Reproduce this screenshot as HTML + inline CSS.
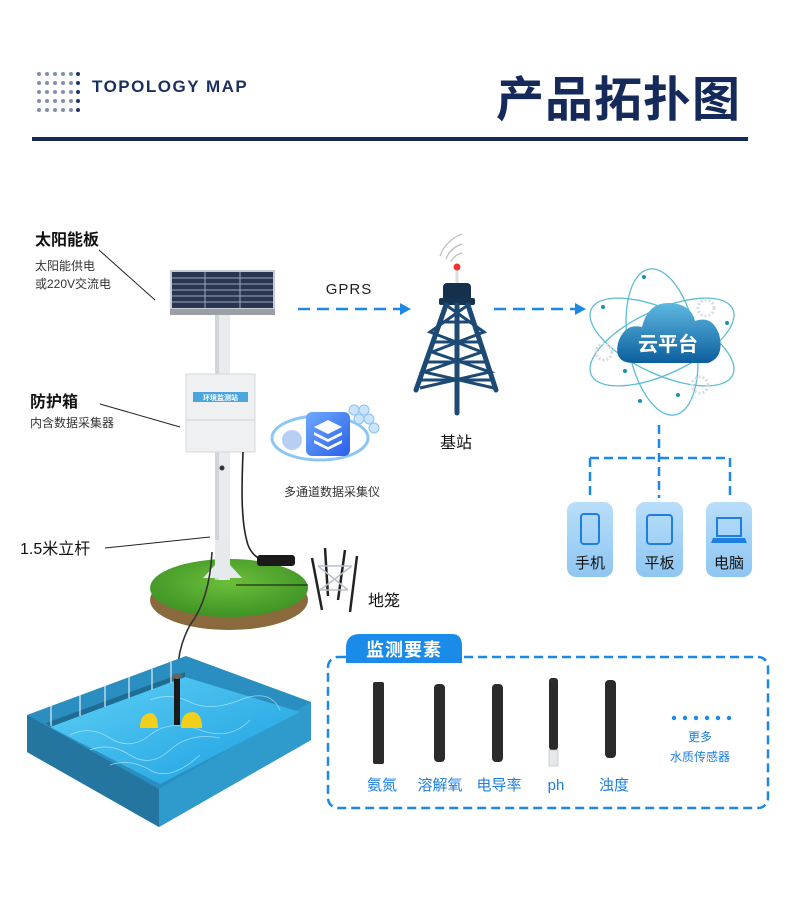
<!DOCTYPE html>
<html><head><meta charset="utf-8"><style>
html,body{margin:0;padding:0;background:#fff;}
svg{display:block;}
text{font-family:"Liberation Sans","Noto Sans CJK SC",sans-serif;}
</style></head><body>
<svg width="792" height="897" viewBox="0 0 792 897" xmlns="http://www.w3.org/2000/svg">
<defs>
<linearGradient id="cloud" x1="0" y1="0" x2="0" y2="1"><stop offset="0" stop-color="#5fb8e0"/><stop offset="1" stop-color="#0b5f9e"/></linearGradient>
<linearGradient id="dev" x1="0" y1="0" x2="0" y2="1"><stop offset="0" stop-color="#b9defa"/><stop offset="1" stop-color="#8ec6f2"/></linearGradient>
<linearGradient id="water" x1="0" y1="0" x2="1" y2="1"><stop offset="0" stop-color="#5fd0f5"/><stop offset="1" stop-color="#1a9ee0"/></linearGradient>
<radialGradient id="grass" cx="0.5" cy="0.4" r="0.6"><stop offset="0" stop-color="#6cbf3a"/><stop offset="1" stop-color="#3e9325"/></radialGradient>
<linearGradient id="ico" x1="0" y1="0" x2="1" y2="1"><stop offset="0" stop-color="#6fa9ff"/><stop offset="1" stop-color="#2a5fe8"/></linearGradient>
</defs>

<g fill="#1f3566">
<g opacity="0.55">
<circle cx="39" cy="74" r="2"/><circle cx="47" cy="74" r="2"/><circle cx="55" cy="74" r="2"/><circle cx="63" cy="74" r="2"/><circle cx="71" cy="74" r="2"/>
<circle cx="39" cy="83" r="2"/><circle cx="47" cy="83" r="2"/><circle cx="55" cy="83" r="2"/><circle cx="63" cy="83" r="2"/><circle cx="71" cy="83" r="2"/>
<circle cx="39" cy="92" r="2"/><circle cx="47" cy="92" r="2"/><circle cx="55" cy="92" r="2"/><circle cx="63" cy="92" r="2"/><circle cx="71" cy="92" r="2"/>
<circle cx="39" cy="101" r="2"/><circle cx="47" cy="101" r="2"/><circle cx="55" cy="101" r="2"/><circle cx="63" cy="101" r="2"/><circle cx="71" cy="101" r="2"/>
<circle cx="39" cy="110" r="2"/><circle cx="47" cy="110" r="2"/><circle cx="55" cy="110" r="2"/><circle cx="63" cy="110" r="2"/><circle cx="71" cy="110" r="2"/>
</g>
<circle cx="78" cy="74" r="2"/><circle cx="78" cy="83" r="2"/><circle cx="78" cy="92" r="2"/><circle cx="78" cy="101" r="2"/><circle cx="78" cy="110" r="2"/>
</g>
<text x="92" y="92" font-size="17" font-weight="bold" fill="#1b2f5e" letter-spacing="1.5">TOPOLOGY MAP</text>
<text x="496" y="116" font-size="48" font-weight="bold" fill="#152a5b" letter-spacing="1">产品拓扑图</text>
<rect x="32" y="137" width="716" height="4" fill="#152a5b"/>

<text x="35" y="245" font-size="16" font-weight="bold" fill="#111">太阳能板</text>
<text x="35" y="270" font-size="12" fill="#333">太阳能供电</text>
<text x="35" y="288" font-size="12" fill="#333">或220V交流电</text>
<line x1="99" y1="250" x2="155" y2="300" stroke="#222" stroke-width="1"/>
<text x="30" y="407" font-size="16" font-weight="bold" fill="#111">防护箱</text>
<text x="30" y="427" font-size="12" fill="#333">内含数据采集器</text>
<line x1="100" y1="404" x2="180" y2="427" stroke="#222" stroke-width="1"/>
<text x="20" y="554" font-size="16" fill="#111">1.5米立杆</text>
<line x1="105" y1="548" x2="210" y2="537" stroke="#222" stroke-width="1"/>

<ellipse cx="229" cy="600" rx="79" ry="30" fill="#8a6a3c"/>
<ellipse cx="229" cy="588" rx="79" ry="29" fill="url(#grass)"/>
<line x1="236" y1="585" x2="308" y2="585" stroke="#111" stroke-width="1"/>
<rect x="215" y="312" width="15" height="268" fill="#e8ecef"/>
<rect x="215" y="312" width="4" height="268" fill="#cfd5da"/>
<path d="M203 578 L215 565 L215 540 L230 540 L230 565 L242 578 Z" fill="#e6eaed"/>
<rect x="170" y="270" width="105" height="40" fill="#c6ccd6"/>
<rect x="172" y="272" width="101" height="36" fill="#2a3650"/>
<g stroke="#9aa6bd" stroke-width="1">
<line x1="172" y1="278" x2="273" y2="278"/><line x1="172" y1="284" x2="273" y2="284"/><line x1="172" y1="290" x2="273" y2="290"/><line x1="172" y1="296" x2="273" y2="296"/><line x1="172" y1="302" x2="273" y2="302"/>
<line x1="205" y1="272" x2="205" y2="308"/><line x1="240" y1="272" x2="240" y2="308"/>
</g>
<rect x="170" y="309" width="105" height="6" fill="#9aa0a6"/>
<rect x="186" y="374" width="69" height="78" fill="#eef0f1" stroke="#d4d8db"/>
<line x1="186" y1="420" x2="255" y2="420" stroke="#d0d4d8"/>
<rect x="193" y="392" width="55" height="10" fill="#4aa6dc"/>
<text x="220.5" y="400" font-size="7" fill="#fff" text-anchor="middle" font-weight="bold">环境监测站</text>
<circle cx="222" cy="468" r="2.5" fill="#333"/>
<path d="M243 452 C242 480 240 520 248 545 C252 555 258 558 262 560" fill="none" stroke="#222" stroke-width="1.6"/>
<rect x="257" y="555" width="38" height="11" rx="3" fill="#1a1a1a"/>
<path d="M212 552 C210 590 200 612 190 625 C182 640 178 655 178 670" fill="none" stroke="#333" stroke-width="1.6"/>
<g stroke="#222" stroke-width="2.5" fill="none">
<line x1="312" y1="558" x2="322" y2="610"/><line x1="325" y1="548" x2="328" y2="596"/><line x1="345" y1="550" x2="338" y2="600"/><line x1="357" y1="556" x2="350" y2="612"/>
</g>
<g stroke="#b8c0c8" stroke-width="1.5" fill="none">
<path d="M318 566 L352 566 M320 590 L348 590 M318 566 L348 590 M352 566 L320 590"/>
</g>
<text x="368" y="606" font-size="16" fill="#111">地笼</text>

<ellipse cx="320" cy="438" rx="48" ry="22" fill="none" stroke="#8cc6f5" stroke-width="3"/>
<circle cx="292" cy="440" r="10" fill="#b7cff3"/>
<g fill="#c9e4fb" stroke="#8dc2f0"><circle cx="354" cy="410" r="5"/><circle cx="364" cy="410" r="5"/><circle cx="359" cy="419" r="5"/><circle cx="369" cy="419" r="5"/><circle cx="374" cy="428" r="5"/></g>
<rect x="306" y="412" width="44" height="44" rx="6" fill="url(#ico)"/>
<g fill="#fff"><path d="M328 420 L342 427 L328 434 L314 427Z"/><path d="M314 432 L328 439 L342 432 L342 435 L328 442 L314 435Z"/><path d="M314 440 L328 447 L342 440 L342 443 L328 450 L314 443Z"/></g>
<text x="332" y="496" font-size="12" fill="#333" text-anchor="middle">多通道数据采集仪</text>

<text x="349" y="294" font-size="15" fill="#222" text-anchor="middle" letter-spacing="1">GPRS</text>
<line x1="298" y1="309" x2="400" y2="309" stroke="#1e88e5" stroke-width="2.5" stroke-dasharray="12,7"/>
<path d="M400 303 L411 309 L400 315Z" fill="#1e88e5"/>
<line x1="494" y1="309" x2="575" y2="309" stroke="#1e88e5" stroke-width="2.5" stroke-dasharray="12,7"/>
<path d="M575 303 L586 309 L575 315Z" fill="#1e88e5"/>

<g fill="none" stroke="#bbb" stroke-width="1.2"><path d="M440 256 Q446 240 462 234"/><path d="M446 259 Q450 248 462 244"/><path d="M451 262 Q454 255 462 253"/></g>
<line x1="457" y1="268" x2="457" y2="290" stroke="#ddd" stroke-width="3"/>
<circle cx="457" cy="267" r="3.5" fill="#e33"/>
<rect x="443" y="283" width="28" height="18" rx="4" fill="#15304d"/>
<rect x="439" y="298" width="36" height="7" rx="2" fill="#163352"/>
<g stroke="#1d4a74" stroke-width="5" fill="none" stroke-linecap="round">
<path d="M446 305 L416 390"/><path d="M468 305 L496 390"/><path d="M457 305 L457 413"/>
</g>
<g stroke="#1d4a74" stroke-width="3" fill="none">
<path d="M446 305 L484 332 L432 352 L490 372 L420 388"/><path d="M468 305 L430 332 L482 352 L424 372 L494 388"/>
<path d="M440 322 L474 322 M434 342 L480 342 M427 362 L487 362 M421 380 L493 380"/>
</g>
<text x="456" y="448" font-size="16" fill="#111" text-anchor="middle">基站</text>

<g fill="none" stroke="#5cbdd2" stroke-width="1.3">
<ellipse cx="662" cy="342" rx="78" ry="32" transform="rotate(25 662 342)"/>
<ellipse cx="662" cy="342" rx="78" ry="32" transform="rotate(-25 662 342)"/>
<ellipse cx="662" cy="342" rx="74" ry="34" transform="rotate(80 662 342)"/>
</g>
<g fill="none" stroke="#d7dde3" stroke-width="3" stroke-dasharray="2,2"><circle cx="706" cy="308" r="8"/><circle cx="604" cy="352" r="8"/><circle cx="700" cy="385" r="8"/></g>
<g fill="#1c8fb0"><circle cx="644" cy="277" r="2"/><circle cx="603" cy="307" r="2"/><circle cx="727" cy="323" r="2"/><circle cx="625" cy="371" r="2"/><circle cx="678" cy="395" r="2"/><circle cx="640" cy="401" r="2"/></g>
<path d="M632 363 Q612 362 619 340 Q626 323 642 327 Q648 302 670 303 Q691 304 695 321 Q712 315 719 334 Q725 357 708 363 Z" fill="url(#cloud)"/>
<text x="668" y="351" font-size="20" font-weight="bold" fill="#fff" text-anchor="middle">云平台</text>

<g stroke="#1e88e5" stroke-width="2.5" stroke-dasharray="9,5" fill="none">
<line x1="659" y1="425" x2="659" y2="498"/>
<line x1="590" y1="458" x2="730" y2="458"/>
<line x1="590" y1="458" x2="590" y2="498"/>
<line x1="730" y1="458" x2="730" y2="498"/>
</g>
<g>
<rect x="567" y="502" width="46" height="75" rx="9" fill="url(#dev)"/>
<rect x="581" y="514" width="18" height="30" rx="3" fill="none" stroke="#1e7fe0" stroke-width="2"/>
<text x="590" y="568" font-size="15" fill="#111" text-anchor="middle">手机</text>
<rect x="636" y="502" width="47" height="75" rx="9" fill="url(#dev)"/>
<rect x="647" y="515" width="25" height="29" rx="3" fill="none" stroke="#1e7fe0" stroke-width="2"/>
<text x="659.5" y="568" font-size="15" fill="#111" text-anchor="middle">平板</text>
<rect x="706" y="502" width="46" height="75" rx="9" fill="url(#dev)"/>
<rect x="717" y="518" width="24" height="18" fill="none" stroke="#1e7fe0" stroke-width="2"/>
<path d="M713 538 L745 538 L747 543 L711 543Z" fill="#1e7fe0"/>
<text x="729" y="568" font-size="15" fill="#111" text-anchor="middle">电脑</text>
</g>

<path d="M27 715 L186 656 L311 702 L311 740 L159 827 L27 752 Z" fill="#2a8fc0"/>
<path d="M27 715 L159 789 L159 827 L27 752 Z" fill="#2475a0"/>
<path d="M159 789 L311 702 L311 740 L159 827 Z" fill="#2f9bcc"/>
<path d="M50 727 L185 677 L300 712 L160 784 Z" fill="url(#water)"/>
<path d="M50 727 L185 677 L185 672 L46 723Z" fill="#1f6d94"/>
<g stroke="#d8eef8" stroke-width="1.2"><line x1="51" y1="706" x2="51" y2="726"/><line x1="80" y1="695" x2="80" y2="716"/><line x1="105" y1="686" x2="105" y2="707"/><line x1="129" y1="677" x2="129" y2="698"/><line x1="152" y1="669" x2="152" y2="690"/><line x1="171" y1="662" x2="171" y2="683"/></g>
<g fill="none" stroke="#bdeeff" stroke-width="0.8" opacity="0.7"><path d="M70 735 Q90 725 110 738 T150 735 T200 730 T250 720"/><path d="M90 750 Q110 742 130 755 T170 750 T220 738"/><path d="M110 765 Q130 758 150 770 T200 755"/><path d="M150 700 Q170 692 190 702 T240 700 T280 710"/></g>
<rect x="174" y="675" width="6" height="50" fill="#1a1a1a"/>
<ellipse cx="177" cy="676" rx="5" ry="3" fill="#666"/>
<path d="M140 728 Q140 714 150 713 Q158 713 158 728 Z" fill="#f2cf1a"/>
<path d="M181 728 Q181 712 193 712 Q202 713 202 728 Z" fill="#f2cf1a"/>

<rect x="328" y="657" width="440" height="151" rx="10" fill="none" stroke="#1e88e5" stroke-width="2.5" stroke-dasharray="9,5"/>
<path d="M346 663 L346 648 Q346 634 360 634 L452 634 Q462 634 462 646 L462 663 Z" fill="#1a8be8"/>
<text x="404" y="656" font-size="18" font-weight="bold" fill="#fff" text-anchor="middle" letter-spacing="1">监测要素</text>
<g fill="#2b2b2b">
<rect x="373" y="682" width="11" height="82" rx="2"/>
<rect x="434" y="684" width="11" height="78" rx="4"/>
<rect x="492" y="684" width="11" height="78" rx="4"/>
<rect x="549" y="678" width="9" height="72" rx="3"/>
<rect x="605" y="680" width="11" height="78" rx="4"/>
</g>
<rect x="549" y="750" width="9" height="16" fill="#e4e8ea" stroke="#bbb" stroke-width="0.6"/>
<g fill="#1e7fe0" font-size="15" text-anchor="middle">
<text x="382" y="790">氨氮</text><text x="440" y="790">溶解氧</text><text x="499" y="790">电导率</text><text x="556" y="790">ph</text><text x="614" y="790">浊度</text>
</g>
<g fill="#1e88e5"><circle cx="674" cy="718" r="2.2"/><circle cx="685" cy="718" r="2.2"/><circle cx="696" cy="718" r="2.2"/><circle cx="707" cy="718" r="2.2"/><circle cx="718" cy="718" r="2.2"/><circle cx="729" cy="718" r="2.2"/></g>
<text x="700" y="741" font-size="12" fill="#1e7fe0" text-anchor="middle">更多</text>
<text x="700" y="761" font-size="12" fill="#1e7fe0" text-anchor="middle">水质传感器</text>
</svg>
</body></html>
